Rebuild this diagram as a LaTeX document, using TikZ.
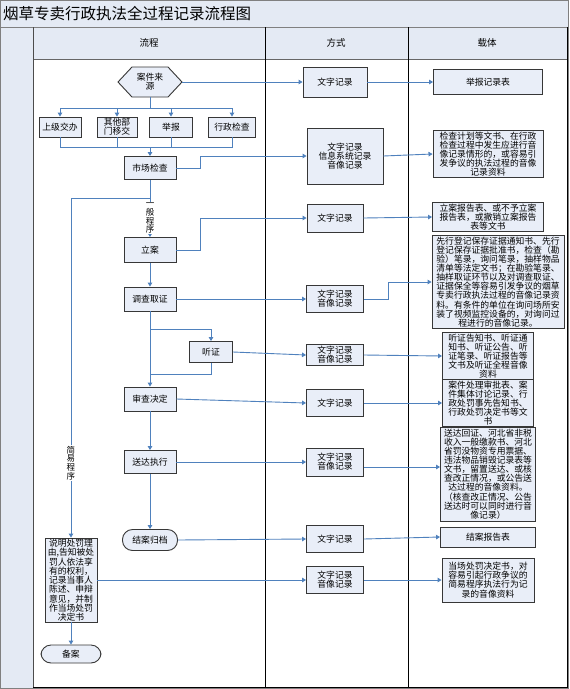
\documentclass[tikz,border=0pt]{standalone}
\usepackage{fontspec}
\setmainfont{Noto Sans CJK SC}
\usetikzlibrary{arrows.meta}
\definecolor{boxfill}{RGB}{233,238,248}
\definecolor{bandfill}{RGB}{228,234,244}
\definecolor{linkc}{RGB}{79,129,189}
\definecolor{edgec}{RGB}{55,55,55}
\begin{document}
\begin{tikzpicture}[x=1pt,y=-1pt,
  box/.style={draw=edgec,fill=boxfill,line width=0.9pt,inner sep=1pt,align=center,font=\fontsize{8.8}{9.1}\selectfont},
  stadium/.style={box,rounded corners=10pt},
  link/.style={draw=linkc,line width=0.9pt},
  arr/.style={link,-{Triangle[length=4pt,width=4.5pt]}},
  lbl/.style={fill=white,inner sep=0.5pt,align=center,font=\fontsize{8.5}{8.8}\selectfont},
  head/.style={font=\fontsize{9.5}{10}\selectfont}]
\useasboundingbox (0,0) rectangle (570,689);
\fill[white] (0,0) rectangle (570,689);
% bands
\fill[bandfill] (0,0) rectangle (568,27);
\fill[bandfill] (0,27) rectangle (33,688);
\fill[bandfill] (33,27) rectangle (567,59);
\draw[gray,line width=0.8pt] (0,27) -- (568,27);
\draw[gray!80!black,line width=0.8pt] (33,59) -- (567,59);
\draw[gray,line width=0.8pt] (0.5,0.5) rectangle (568,688.5);
\draw[gray!60!black,line width=1pt] (33,27) -- (33,688);
\draw[black,line width=1pt] (265,27) -- (265,688);
\draw[black,line width=1pt] (408,27) -- (408,688);
\draw[black,line width=1pt] (567,27) -- (567,688);
\draw[black,line width=1pt] (33,687.5) -- (567,687.5);
\node[anchor=west,font=\fontsize{15.5}{16}\selectfont,inner sep=0pt] (title) at (3,14) {烟草专卖行政执法全过程记录流程图};
\node[head] (h1) at (149,43) {流程};
\node[head] (h2) at (336,43) {方式};
\node[head] (h3) at (487,43) {载体};
% process column
\draw[edgec,fill=boxfill,line width=0.9pt] (118,82) -- (132,67) -- (168,67) -- (182,82) -- (168,97) -- (132,97) -- cycle;
\node[align=center,inner sep=0pt,minimum width=64,minimum height=30,font=\fontsize{8.8}{9.1}\selectfont] (src) at (150,82) {案件来\\源};
\node[box,minimum width=42,minimum height=20] (b1) at (60,127) {上级交办};
\node[box,minimum width=40,minimum height=20] (b2) at (117,127) {其他部\\门移交};
\node[box,minimum width=43,minimum height=20] (b3) at (171,127) {举报};
\node[box,minimum width=47,minimum height=20] (b4) at (232,127) {行政检查};
\node[box,minimum width=52,minimum height=23] (mkt) at (150,168) {市场检查};
\node[box,minimum width=52,minimum height=25] (la) at (150,250) {立案};
\node[box,minimum width=52,minimum height=24] (dc) at (150,299) {调查取证};
\node[box,minimum width=43,minimum height=21] (hz) at (211,352) {听证};
\node[box,minimum width=52,minimum height=24] (sc) at (150,399) {审查决定};
\node[box,minimum width=52,minimum height=23] (sd) at (150,462) {送达执行};
\node[stadium,minimum width=55,minimum height=21] (ja) at (150,540) {结案归档};
\node[box,minimum width=52,minimum height=84] (sb) at (71,580) {说明处罚理\\由,告知被处\\罚人依法享\\有的权利，\\记录当事人\\陈述、申辩\\意见，并制\\作当场处罚\\决定书};
\node[stadium,minimum width=60,minimum height=18] (ba) at (71,654) {备案};
% method column
\node[box,minimum width=64,minimum height=30] (w1) at (335,82) {文字记录};
\node[box,minimum width=76,minimum height=56] (w2) at (345,156) {文字记录\\信息系统记录\\音像记录};
\node[box,minimum width=56,minimum height=28] (w3) at (335,218) {文字记录};
\node[box,minimum width=57,minimum height=27] (w4) at (335,299) {文字记录\\音像记录};
\node[box,minimum width=57,minimum height=21] (w5) at (335,355) {文字记录\\音像记录};
\node[box,minimum width=57,minimum height=27] (w6) at (335,403) {文字记录};
\node[box,minimum width=57,minimum height=28] (w7) at (335,462) {文字记录\\音像记录};
\node[box,minimum width=57,minimum height=27] (w8) at (335,539) {文字记录};
\node[box,minimum width=57,minimum height=27] (w9) at (335,580) {文字记录\\音像记录};
% carrier column
\node[box,minimum width=109,minimum height=25] (r1) at (488,82) {举报记录表};
\node[box,minimum width=110,minimum height=45] (r2) at (488,154) {检查计划等文书、在行政\\检查过程中发生应进行音\\像记录情形的，或容易引\\发争议的执法过程的音像\\记录资料};
\node[box,minimum width=111,minimum height=27] (r3) at (488,217) {立案报告表、或不予立案\\报告表，或撤销立案报告\\表等文书};
\node[box,minimum width=132,minimum height=93] (r4) at (498,282) {先行登记保存证据通知书、先行\\登记保存证据批准书，检查（勘\\验）笔录，询问笔录，抽样物品\\清单等法定文书；在勘验笔录、\\抽样取证环节以及对调查取证、\\证据保全等容易引发争议的烟草\\专卖行政执法过程的音像记录资\\料。有条件的单位在询问场所安\\装了视频监控设备的，对询问过\\程进行的音像记录。};
\node[box,minimum width=91,minimum height=44] (r5) at (488,356) {听证告知书、听证通\\知书、听证公告、听\\证笔录、听证报告等\\文书及听证全程音像\\资料};
\node[box,minimum width=91,minimum height=44] (r6) at (488,403) {案件处理审批表、案\\件集体讨论记录、行\\政处罚事先告知书、\\行政处罚决定书等文\\书};
\node[box,minimum width=95,minimum height=94] (r7) at (488,474) {送达回证、河北省非税\\收入一般缴款书、河北\\省罚没物资专用票据、\\违法物品销毁记录表等\\文书，留置送达、或核\\查改正情况，或公告送\\达过程的音像资料。\\（核查改正情况、公告\\送达时可以同时进行音\\像记录）};
\node[box,minimum width=95,minimum height=20] (r8) at (488,537) {结案报告表};
\node[box,minimum width=92,minimum height=44] (r9) at (488,580) {当场处罚决定书，对\\容易引起行政争议的\\简易程序执法行为记\\录的音像资料};
% coordinates
\coordinate (sp) at (150,108);
\coordinate (mg) at (150,147);
\coordinate (gs) at (150,198);
\coordinate (hb) at (150,329);
\coordinate (hm) at (150,374);
% connectors
\draw[arr] (src.east) -- (w1.west);
\draw[arr] (w1.east) -- (r1.west);
\draw[link] (src.south) -- (sp);
\draw[arr] (sp) -| (b1.north);
\draw[arr] (sp) -| (b2.north);
\draw[arr] (sp) -| (b3.north);
\draw[arr] (sp) -| (b4.north);
\draw[link] (b1.south) |- (mg);
\draw[link] (b2.south) |- (mg);
\draw[link] (b3.south) |- (mg);
\draw[link] (b4.south) |- (mg);
\draw[arr] (mg) -- (mkt.north);
\draw[arr] (mkt.east) -- ++(24,0) |- (w2.west);
\draw[arr] (w2.east) -- (r2.west);
\draw[link] (mkt.south) -- (gs);
\draw[arr] (gs) -| (sb.north);
\draw[arr] (gs) -- node[lbl,pos=0.52] (gp) {一\\般\\程\\序} (la.north);
\draw[arr] (la.east) -- ++(24,0) |- (w3.west);
\draw[arr] (w3.east) -- (r3.west);
\draw[arr] (la.south) -- (dc.north);
\draw[arr] (dc.east) -- (w4.west);
\draw[arr] (w4.east) -- ++(24,0) |- (r4.west);
\draw[arr] (dc.south) -- (hb) -| (hz.north);
\draw[arr] (hb) -- (sc.north);
\draw[link] (hz.south) |- (hm);
\draw[arr] (hz.east) -- (w5.west);
\draw[arr] (w5.east) -- (r5.west);
\draw[arr] (sc.east) -- (w6.west);
\draw[arr] (w6.east) -- (r6.west);
\draw[arr] (sc.south) -- (sd.north);
\draw[arr] (sd.east) -- (w7.west);
\draw[arr] ([yshift=-5pt]w7.east) -- ([yshift=-5pt]w7.east -| r7.west);
\draw[arr] (sd.south) -- (ja.north);
\draw[arr] (ja.east) -- (w8.west);
\draw[arr] (w8.east) -- (r8.west);
\draw[arr] (sb.east) -- (w9.west);
\draw[arr] (w9.east) -- (r9.west);
\draw[arr] (sb.south) -- (ba.north);
\node[lbl] (jy) at (71,463) {简\\易\\程\\序};
\end{tikzpicture}
\end{document}
